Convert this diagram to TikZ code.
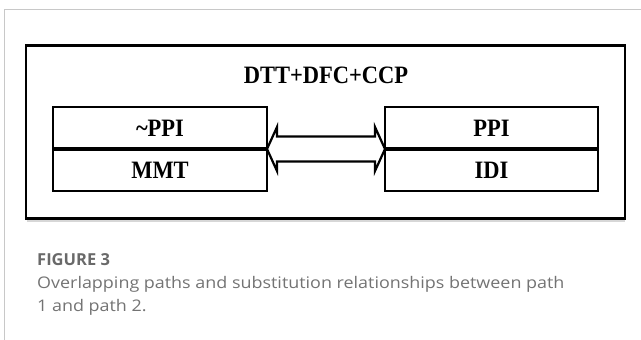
\documentclass[tikz,border=0pt]{standalone}
\usepackage{fontspec}
\setmainfont{Liberation Serif}
\newfontfamily\boxfont[FakeStretch=0.9]{Liberation Serif}
\newfontfamily\capfont[FakeStretch=1.12]{Open Sans}
\newfontfamily\capheadfont{Open Sans}
\usetikzlibrary{calc}
\definecolor{framegray}{RGB}{200,200,200}
\definecolor{sepgray}{RGB}{215,215,215}
\definecolor{capgray}{RGB}{105,105,105}
\definecolor{textgray}{RGB}{115,115,115}
\begin{document}
\begin{tikzpicture}[x=1pt,y=-1pt,
  cell/.style={draw=black, line width=2pt, minimum width=214pt, minimum height=42pt,
    anchor=north west, inner sep=0pt, outer sep=0pt,
    font=\boxfont\bfseries\fontsize{25}{25}\selectfont},
  divider/.style={line width=3.6pt, line cap=butt},
  outerframe/.style={draw=black, line width=2.5pt},
  twoway/.style={draw=black, fill=white, line width=2.2pt, line join=miter},
  capline/.style={anchor=base west, inner sep=0pt, text=textgray,
    font=\capfont\fontsize{16}{16}\selectfont},
  caphead/.style={anchor=base west, inner sep=0pt, text=capgray,
    font=\capheadfont\bfseries\fontsize{16.5}{16.5}\selectfont}]
\useasboundingbox (0,0) rectangle (641,340);
% page frame lines
\draw[framegray, line width=1.2pt] (641,9.3) -- (4.3,9.3) -- (4.3,340);
\draw[sepgray, line width=1.2pt] (26.5,221) -- (625,221);
% outer diagram frame
\draw[outerframe] (26,45.7) rectangle (625,218.3);
\node[font=\boxfont\bfseries\fontsize{25}{25}\selectfont, anchor=base] (title) at (326,83.3) {DTT+DFC+CCP};
% left cells
\node[cell] (lt) at (53,107) {\textasciitilde PPI};
\node[cell] (lb) at (53,149) {MMT};
% right cells
\node[cell, minimum width=213pt] (rt) at (385,107) {PPI};
\node[cell, minimum width=213pt] (rb) at (385,149) {IDI};
\draw[divider] (lt.south west) -- (lt.south east);
\draw[divider] (rt.south west) -- (rt.south east);
% double arrow
\coordinate (L) at (lt.south east);
\coordinate (R) at (rt.south west);
\draw[twoway] (L) -- ++(10,-22) -- ++(0,9.5) -- ($(R)+(-10,-12.5)$) -- ++(0,-9.5)
  -- (R) -- ++(-10,22) -- ++(0,-9.5) -- ($(L)+(10,12.5)$) -- ++(0,9.5) -- cycle;
% caption
\node[caphead] (fig) at (37,265) {FIGURE 3};
\node[capline] (cap1) at (37,288) {Overlapping paths and substitution relationships between path};
\node[capline] (cap2) at (37,311) {1 and path 2.};
\end{tikzpicture}
\end{document}
